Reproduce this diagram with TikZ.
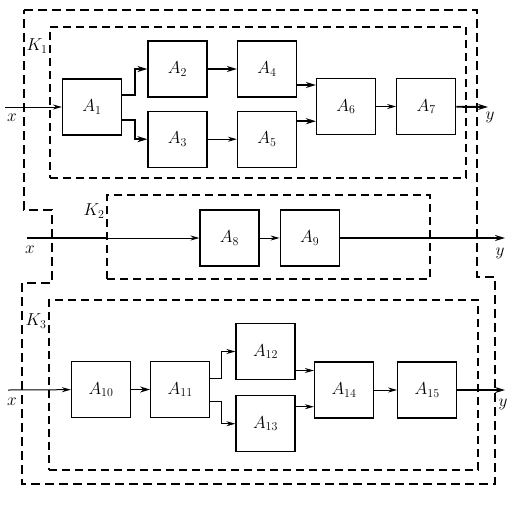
\documentclass[tikz,border=0pt]{standalone}
\usetikzlibrary{arrows.meta, positioning}
\tikzstyle{block} = [rectangle, draw, line width=1.2pt, minimum width=59pt, minimum height=56pt, text centered, font=\LARGE]
\tikzstyle{group} = [rectangle, draw, dash pattern=on 8pt off 5pt, line width=1.1pt, minimum width=20pt]
\tikzstyle{arrow} = [line width=1pt,-{Stealth[length=9pt,width=5pt]}]
\tikzstyle{bigarrow} = [line width=1.9pt,-{Stealth[length=10pt,width=6pt]}]
\tikzstyle{lbl} = [font=\LARGE, inner sep=1pt]

\begin{document}
\begin{tikzpicture}[x=1pt, y=-1pt]
            \useasboundingbox (0,0) rectangle (526,504);

            % outer frame
            \draw [dash pattern=on 9pt off 5pt, line width=1.3pt] (24,10) -- (477,10) -- (477,277) -- (495,277) -- (495,484)
                  -- (22,484) -- (22,283) -- (52,283) -- (52,210) -- (24,210) -- cycle;

            \node (K1) [group, minimum width=416pt, minimum height=151pt] at (258,102.5) {};
            \node (K2) [group, minimum width=323pt, minimum height=84pt]  at (268.5,237) {};
            \node (K3) [group, minimum width=429pt, minimum height=170pt] at (263.5,385) {};
            \node (k1) [lbl] at (37,46)  {$K_1$};
            \node (k2) [lbl] at (94,211) {$K_2$};
            \node (k3) [lbl] at (36,321) {$K_3$};

            % first chain
            \node (A1) [block] at (92,107)     {$A_1$};
            \node (A2) [block] at (177.5,69)   {$A_2$};
            \node (A3) [block, below=13pt of A2] {$A_3$};
            \node (A4) [block] at (267,69)     {$A_4$};
            \node (A5) [block, below=13pt of A4] {$A_5$};
            \node (A6) [block] at (346,106.5)  {$A_6$};
            \node (A7) [block, right=20pt of A6] {$A_7$};

            % second chain
            \node (A8) [block] at (229.5,238)  {$A_8$};
            \node (A9) [block, right=20pt of A8] {$A_9$};

            % third chain
            \node (A10) [block] at (101,389.5) {$A_{10}$};
            \node (A11) [block, right=19pt of A10] {$A_{11}$};
            \node (A12) [block] at (265.5,351.5) {$A_{12}$};
            \node (A13) [block, below=15pt of A12] {$A_{13}$};
            \node (A14) [block] at (344,390)   {$A_{14}$};
            \node (A15) [block, right=23pt of A14] {$A_{15}$};

            \coordinate (x1) at (5,107);
            \coordinate (y1) at (488,107);
            \coordinate (x2) at (27,238);
            \coordinate (y2) at (505,238);
            \coordinate (x3) at (8,390);
            \coordinate (y3) at (505,390);
            \node (lx1) [lbl] at (12,118)  {$x$};
            \node (ly1) [lbl] at (490,117) {$y$};
            \node (lx2) [lbl] at (30,250)  {$x$};
            \node (ly2) [lbl] at (500,253) {$y$};
            \node (lx3) [lbl] at (12,402)  {$x$};
            \node (ly3) [lbl] at (503,404) {$y$};

            \draw [arrow]    (x1) -- (A1);
            \draw [bigarrow] ([yshift=12pt]A1.east) -- ++(13,0) |- (A2);
            \draw [bigarrow] ([yshift=-13pt]A1.east) -- ++(13,0) |- (A3);
            \draw [bigarrow] (A2) -- (A4);
            \draw [arrow]    (A3) -- (A5);
            \draw [bigarrow] ([yshift=-16pt]A4.east) -- ([yshift=-16pt]A4.east -| A6.west);
            \draw [bigarrow] ([yshift=18pt]A5.east) -- ([yshift=18pt]A5.east -| A6.west);
            \draw [arrow]    (A6) -- (A7);
            \draw [bigarrow] (A7) -- (y1);

            \draw [line width=1.9pt] (x2) -- (x2 -| K2.west);
            \draw [arrow]    (x2 -| K2.west) -- (A8);
            \draw [arrow]    (A8) -- (A9);
            \draw [bigarrow] (A9) -- (y2);

            \draw [arrow]    (x3) -- (A10);
            \draw [bigarrow] (A10) -- (A11);
            \draw [arrow]    ([yshift=11pt]A11.east) -- ++(11,0) |- (A12);
            \draw [arrow]    ([yshift=-12pt]A11.east) -- ++(11,0) |- (A13);
            \draw [arrow]    ([yshift=-19pt]A12.east) -- ([yshift=-19pt]A12.east -| A14.west);
            \draw [arrow]    ([yshift=17pt]A13.east) -- ([yshift=17pt]A13.east -| A14.west);
            \draw [arrow]    (A14) -- (A15);
            \draw [bigarrow] (A15) -- (y3);
        \end{tikzpicture}
\end{document}
